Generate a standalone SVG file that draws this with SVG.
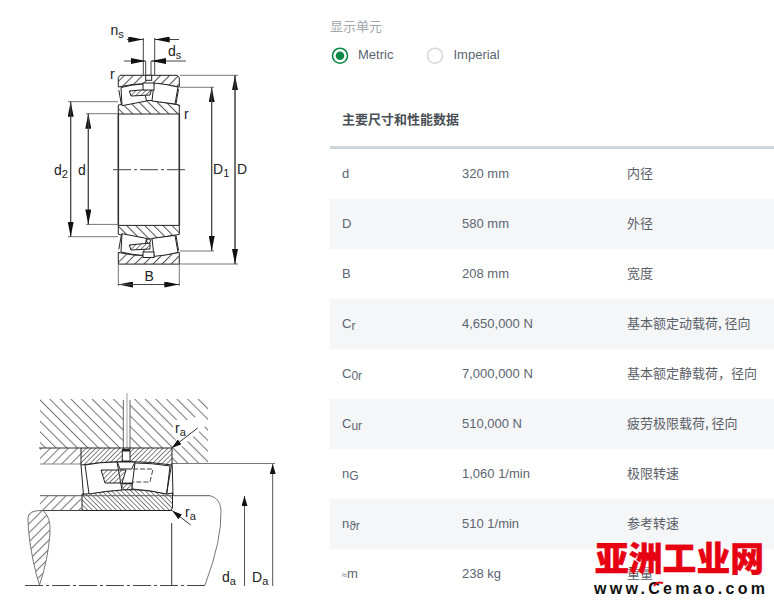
<svg xmlns="http://www.w3.org/2000/svg" width="774" height="604" viewBox="0 0 774 604">
<style>
.lab{font-family:"Liberation Sans",Arial,sans-serif;font-size:14px;fill:#222}
.sub{font-size:11px}
.t{font-family:"Liberation Sans",Arial,sans-serif;font-size:13px;fill:#5b6570}
.c{font-family:"Noto Sans CJK SC",sans-serif;font-size:13px;fill:#5b6068}
.k{font-family:"Liberation Sans",Arial,sans-serif;font-size:13px;fill:#5b6570}
.ks{font-size:12px}
.o{fill:none;stroke:#222;stroke-width:1}
.w{fill:#fff;stroke:#222;stroke-width:1}
.g{fill:none;stroke:#777;stroke-width:1}
.d{fill:none;stroke:#444;stroke-width:1}
.thick{fill:none;stroke:#333;stroke-width:1.6}
.band{fill:#f5f6f8}
</style>
<defs>
<pattern id="hf" width="6.4" height="6.4" patternUnits="userSpaceOnUse" patternTransform="rotate(45)"><rect width="1" height="6.4" fill="#555"/></pattern>
<pattern id="hb" width="6.4" height="6.4" patternUnits="userSpaceOnUse" patternTransform="rotate(-45)"><rect width="1" height="6.4" fill="#555"/></pattern>
<pattern id="ff" width="3.4" height="3.4" patternUnits="userSpaceOnUse" patternTransform="rotate(45)"><rect width="0.8" height="3.4" fill="#666"/></pattern>
<pattern id="fb" width="3.4" height="3.4" patternUnits="userSpaceOnUse" patternTransform="rotate(-45)"><rect width="0.8" height="3.4" fill="#666"/></pattern>
<pattern id="mf" width="6.4" height="6.4" patternUnits="userSpaceOnUse" patternTransform="rotate(45)"><rect width="1" height="6.4" fill="#777"/></pattern>
<pattern id="lb" width="7.5" height="7.5" patternUnits="userSpaceOnUse" patternTransform="rotate(-45)"><rect width="1" height="7.5" fill="#777"/></pattern>
<marker id="ar" viewBox="0 0 15 6" refX="15" refY="3" markerWidth="15" markerHeight="6" markerUnits="userSpaceOnUse" orient="auto"><path d="M0,0L15,3L0,6Z" fill="#111"/></marker>
<marker id="ars" viewBox="0 0 10 6" refX="10" refY="3" markerWidth="10" markerHeight="6" markerUnits="userSpaceOnUse" orient="auto"><path d="M0,0L10,3L0,6Z" fill="#111"/></marker>
</defs>
<rect width="774" height="604" fill="#fff"/>

<g id="bearing-section">
<path d="M120,75.3H177L179.3,77.5V87Q148,80 118.3,87V77.5Z" fill="url(#hf)" stroke="#222"/>
<path d="M118.3,114V105L146,100.5H152L179.3,105V114Z" fill="url(#hb)" stroke="#222"/>
<path class="w" d="M121,87.5Q132,84.5 143,84L146.5,101L122,105.7Z"/>
<path class="w" d="M154,83Q166,84 178,87L175,104L152,101Z"/>
<path d="M118.8,90L121.5,105M178.5,89L176,104" class="o"/>
<path d="M129.3,91L151.7,89L150,95L131,96Z" fill="#fff" stroke="none"/>
<path d="M129.3,91L151.7,89L150,95L131,96Z" fill="url(#ff)" stroke="#222"/>
<rect x="143" y="83" width="11" height="7" class="w"/>
<rect x="145.7" y="75.3" width="6" height="5" class="w"/>
<path class="thick" d="M118.3,114V225.4M179.3,114V225.4"/>
<path d="M113,169.7H185" stroke="#444" fill="none" stroke-dasharray="18 3 3 3"/>
<path d="M118.3,264.1H179.3V252.4Q148,259.4 118.3,252.4Z" fill="url(#hf)" stroke="#222"/>
<path d="M118.3,225.4H179.3V234.4L152,238.9H146L118.3,234.4Z" fill="url(#hb)" stroke="#222"/>
<path class="w" d="M121,252Q132,254.9 143,255.4L146.5,238.4L122,233.7Z"/>
<path class="w" d="M154,256.4Q166,255.4 178,252.4L175,235.4L152,238.4Z"/>
<path d="M118.8,249.4L121.5,234.4M178.5,250.4L176,235.4" class="o"/>
<path d="M129.3,245L150,243L150,249L131,250Z" fill="#fff" stroke="none"/>
<path d="M129.3,245L150,243L150,249L131,250Z" fill="url(#ff)" stroke="#222"/>
<rect x="143" y="252" width="11" height="5.5" class="w"/>
<circle cx="148.5" cy="241" r="2" class="w"/>
</g>

<g id="connectors">
<path class="d" d="M127,39.5H143.3" marker-end="url(#ar)"/>
<path class="d" d="M179,39.5H154.7" marker-end="url(#ar)"/>
<path class="d" d="M143.3,38V75M154.7,38V75"/>
<path class="d" d="M124,61H145.7" marker-end="url(#ar)"/>
<path class="d" d="M186,61H151" marker-end="url(#ar)"/>
<path class="d" d="M145.7,61V75M151,61V75"/>
<path class="g" d="M68,101.7H118M86,113.7H118M180,87.3H214M180,75.3H238M68,236.7H118M86,224.4H118M180,251H214M180,264H238"/>
<path class="d" d="M70.7,236.7V101.7" marker-end="url(#ar)"/>
<path class="d" d="M70.7,101.7V236.7" marker-end="url(#ar)"/>
<path class="d" d="M88.3,224.4V113.7" marker-end="url(#ar)"/>
<path class="d" d="M88.3,113.7V224.4" marker-end="url(#ar)"/>
<path class="d" d="M211.7,251V87.3" marker-end="url(#ar)"/>
<path class="d" d="M211.7,87.3V251" marker-end="url(#ar)"/>
<path class="d" d="M235,264V75.3" marker-end="url(#ar)"/>
<path class="d" d="M235,75.3V264" marker-end="url(#ar)"/>
<path class="g" d="M118.3,264V286M179.3,264V286"/>
<path class="d" d="M179.3,284.5H118.3" marker-end="url(#ar)"/>
<path class="d" d="M118.3,284.5H179.3" marker-end="url(#ar)"/>
</g>

<g id="bearing-labels">
<text class="lab" x="110.5" y="35">n<tspan class="sub" dy="3">s</tspan></text>
<text class="lab" x="168" y="56">d<tspan class="sub" dy="3">s</tspan></text>
<text class="lab" x="110" y="79">r</text>
<text class="lab" x="184" y="119">r</text>
<text class="lab" x="54" y="175">d<tspan class="sub" dy="3">2</tspan></text>
<text class="lab" x="78" y="175">d</text>
<text class="lab" x="213" y="174">D<tspan class="sub" dy="3">1</tspan></text>
<text class="lab" x="237" y="174">D</text>
<text class="lab" x="144.5" y="281">B</text>
</g>

<g id="mounting-section">
<path d="M40,399H208V464H172V448H40Z" fill="url(#lb)"/>
<path d="M40,448H81V464H40Z" fill="url(#mf)"/>
<path d="M40,496H81V510H40Z" fill="url(#mf)"/>
<rect x="123.3" y="399" width="6.7" height="50" fill="#fff"/>
<path d="M123.3,400V450M130,400V450" stroke="#666" fill="none"/>
<path d="M127,393V448" stroke="#c4c4c4" stroke-width="1.6" fill="none"/>
<path d="M173,436L199,414L208,424L181,447Z" fill="#fff"/>
<rect x="173" y="420" width="18" height="17" fill="#fff"/>
<path d="M39,448H81" stroke="#333" fill="none"/>
<path d="M40,464H81" stroke="#888" fill="none"/>
<path d="M172,463.5H275M40,495.7H210" stroke="#777" fill="none" stroke-width="1.2"/>
<path d="M40,510.5H172" stroke="#444" fill="none"/>
<path d="M81,448H172V465Q126,458 81,465Z" fill="url(#ff)" stroke="#222"/>
<path d="M82,508Q81,510 84,510.5H170Q172.5,510 172.5,507V493L167,494Q140,488 117,490L86,494L82,494Z" fill="url(#fb)" stroke="#222"/>
<path class="w" d="M85,465Q100,462 117,462L122,490Q105,491 89,494Z"/>
<path class="w" d="M135,463Q152,463 170,466L166.7,494Q150,490 131.7,489Z"/>
<path d="M81,465L83.5,495M172.2,465L173,495M171.5,465L166.7,493" class="o"/>
<path d="M101,470H126L122,483H105Z" fill="url(#ff)" stroke="#222"/>
<path d="M133,469H153L150,482H132" fill="none" stroke="#444" stroke-dasharray="5 2"/>
<path class="w" d="M117.3,462H135L131.7,469H120Z"/>
<rect x="122.3" y="451" width="7.7" height="10" class="w"/>
<path d="M122,450H130" stroke="#222" stroke-width="2" fill="none"/>
<path d="M122,483.5H132" stroke="#111" stroke-width="1.6" fill="none"/>
<path d="M121.7,483.5L123.5,490H133L132,483Z" fill="url(#ff)" stroke="#333" stroke-width="0.6"/>
<path d="M43,510.5Q28,510 28,518Q28,535 33,560Q36,575 39.5,585Q48,560 50,533Q51,517 43,510.5Z" fill="url(#mf)" stroke="#777"/>
<path d="M210,495.7Q220,498 221,510Q222,540 205,585" fill="none" stroke="#777"/>
<path d="M171.7,523V585.5" stroke="#333" fill="none"/>
<path d="M25,585.5H207" stroke="#444" fill="none" stroke-dasharray="18 3 3 3"/>
<path d="M272.7,586V464" stroke="#555" fill="none" marker-end="url(#ars)"/>
<path d="M244.5,586V496" stroke="#555" fill="none" marker-end="url(#ars)"/>
<path d="M197.7,428L171.7,448" stroke="#333" fill="none" marker-end="url(#ars)"/>
<path d="M190.7,525L172.3,510.7" stroke="#333" fill="none" marker-end="url(#ars)"/>
<text class="lab" x="175" y="433">r<tspan class="sub" dy="3">a</tspan></text>
<text class="lab" x="185" y="517">r<tspan class="sub" dy="3">a</tspan></text>
<text class="lab" x="222" y="582">d<tspan class="sub" dy="3">a</tspan></text>
<text class="lab" x="252" y="582">D<tspan class="sub" dy="3">a</tspan></text>
</g>

<g id="unit-selector">
<text x="330" y="31" style="font-family:'Noto Sans CJK SC',sans-serif;font-size:13px;fill:#a3a8ad">显示单元</text>
<circle cx="340" cy="55.7" r="7.5" fill="#fff" stroke="#0b8a47" stroke-width="1.6"/>
<circle cx="340" cy="55.7" r="4.3" fill="#0b8a47"/>
<text class="t" x="358" y="59">Metric</text>
<circle cx="435" cy="55.7" r="7.5" fill="#fff" stroke="#d5dadf" stroke-width="1.6"/>
<text class="t" x="453.5" y="59">Imperial</text>
</g>

<g id="data-table">
<text x="342" y="124" style="font-family:'Noto Sans CJK SC',sans-serif;font-size:13px;font-weight:700;fill:#4a4f55">主要尺寸和性能数据</text>
<rect x="330" y="146" width="444" height="3" fill="#cfd6db"/>
<rect class="band" x="330" y="199" width="444" height="50"/>
<rect class="band" x="330" y="299" width="444" height="50"/>
<rect class="band" x="330" y="399" width="444" height="50"/>
<rect class="band" x="330" y="499" width="444" height="50"/>
<g id="row-d"><text class="k" x="342" y="178">d</text><text class="t" x="462" y="178">320 mm</text><text class="c" x="627" y="178">内径</text></g>
<g id="row-D"><text class="k" x="342" y="228">D</text><text class="t" x="462" y="228">580 mm</text><text class="c" x="627" y="228">外径</text></g>
<g id="row-B"><text class="k" x="342" y="278">B</text><text class="t" x="462" y="278">208 mm</text><text class="c" x="627" y="278">宽度</text></g>
<g id="row-Cr"><text class="k" x="342" y="328">C<tspan class="ks" dy="2">r</tspan></text><text class="t" x="462" y="328">4,650,000 N</text><text class="c" x="627" y="328">基本额定动载荷, 径向</text></g>
<g id="row-C0r"><text class="k" x="342" y="378">C<tspan class="ks" dy="2">0r</tspan></text><text class="t" x="462" y="378">7,000,000 N</text><text class="c" x="627" y="378">基本额定静载荷，径向</text></g>
<g id="row-Cur"><text class="k" x="342" y="428">C<tspan class="ks" dy="2">ur</tspan></text><text class="t" x="462" y="428">510,000 N</text><text class="c" x="627" y="428">疲劳极限载荷, 径向</text></g>
<g id="row-nG"><text class="k" x="342" y="478">n<tspan class="ks" dy="2">G</tspan></text><text class="t" x="462" y="478">1,060 1/min</text><text class="c" x="627" y="478">极限转速</text></g>
<g id="row-ntr"><text class="k" x="342" y="528">n<tspan class="ks" dy="2">ϑr</tspan></text><text class="t" x="462" y="528">510 1/min</text><text class="c" x="627" y="528">参考转速</text></g>
<g id="row-m"><text class="k" x="342" y="578"><tspan style="font-size:9px">≈</tspan>m</text><text class="t" x="462" y="578">238 kg</text><text class="c" x="627" y="578">重量</text></g>
</g>

<g id="watermark">
<text x="595" y="571" textLength="169" lengthAdjust="spacingAndGlyphs" style="font-family:'Noto Sans CJK SC',sans-serif;font-size:34px;font-weight:900;fill:#e60012;stroke:#e60012;stroke-width:0.4">亚洲工业网</text>
<text x="594" y="594" textLength="171" lengthAdjust="spacing" style="font-family:'Liberation Sans',sans-serif;font-size:16px;font-weight:700;fill:#111">www.Cemao.com</text>
<path d="M654,586Q657,581 663,583" fill="none" stroke="#e60012" stroke-width="2"/>
</g>
</svg>
